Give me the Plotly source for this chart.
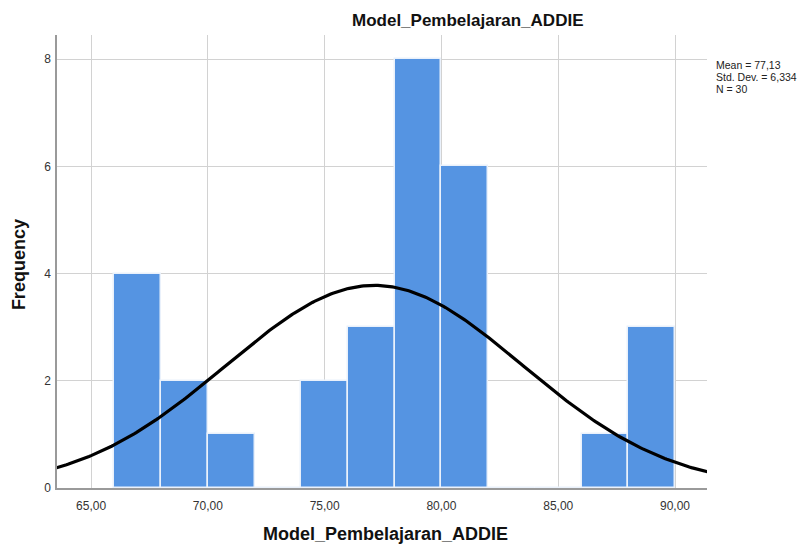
import numpy as np
import plotly.graph_objects as go

# Data
bin_starts = [66, 68, 70, 72, 74, 76, 78, 80, 82, 84, 86, 88]
frequencies = [4, 2, 1, 0, 2, 3, 8, 6, 0, 0, 1, 3]
bin_width = 2
mean_val = 77.13
std_dev = 6.334
n_total = 30
x_tick_vals = [65, 70, 75, 80, 85, 90]
x_tick_text = ["65,00", "70,00", "75,00", "80,00", "85,00", "90,00"]
y_tick_vals = [0, 2, 4, 6, 8]
stats_lines = ["Mean = 77,13", "Std. Dev. = 6,334", "N = 30"]
title_text = "Model_Pembelajaran_ADDIE"

centers = [s + bin_width / 2 for s in bin_starts]

# Normal curve from the stated statistics
xs = np.linspace(60, 95, 400)
ys = n_total * bin_width / (std_dev * np.sqrt(2 * np.pi)) * np.exp(-0.5 * ((xs - mean_val) / std_dev) ** 2)

fig = go.Figure()
fig.add_trace(go.Bar(
    x=centers, y=frequencies, width=[bin_width] * len(centers),
    marker=dict(color="#5594E2", line=dict(color="#EAF1FB", width=1.5)),
    hoverinfo="x+y",
))
fig.add_trace(go.Scatter(
    x=xs, y=ys, mode="lines", line=dict(color="black", width=3.2),
    hoverinfo="skip",
))

annotations = [
    dict(text="<b>" + title_text + "</b>", xref="paper", yref="paper",
         x=0.632, y=1.0, yshift=15, xanchor="center", yanchor="middle",
         showarrow=False, font=dict(size=17, color="#111111")),
    dict(text="<b>" + title_text + "</b>", xref="paper", yref="paper",
         x=0.505, y=0.0, yshift=-46, xanchor="center", yanchor="middle",
         showarrow=False, font=dict(size=18, color="#111111")),
    dict(text="<b>Frequency</b>", xref="paper", yref="paper", textangle=-90,
         x=0.0, xshift=-38, y=0.492, xanchor="center", yanchor="middle",
         showarrow=False, font=dict(size=18, color="#111111")),
]
stat_y = [0.934, 0.907, 0.881]
for txt, yy in zip(stats_lines, stat_y):
    annotations.append(dict(text=txt, xref="paper", yref="paper",
                            x=1.0, xshift=7, y=yy, xanchor="left", yanchor="middle",
                            showarrow=False, font=dict(size=10.5, color="#222222")))

fig.update_layout(
    width=801, height=536,
    margin=dict(l=49, r=102, t=27, b=56),
    paper_bgcolor="white", plot_bgcolor="white",
    showlegend=False,
    bargap=0,
    font=dict(family="Liberation Sans, Arial, sans-serif", color="#222222"),
    xaxis=dict(
        range=[63.54, 91.37],
        tickvals=x_tick_vals, ticktext=x_tick_text,
        tickfont=dict(size=12, color="#333333"),
        showgrid=True, gridcolor="#D2D2D2", gridwidth=1,
        showline=True, linecolor="#9A9A9A", linewidth=1.5,
        zeroline=False, ticks="", automargin=False,
        ticklabelstandoff=6,
    ),
    yaxis=dict(
        range=[0, 8.45],
        tickvals=y_tick_vals,
        tickfont=dict(size=12, color="#333333"),
        showgrid=True, gridcolor="#D2D2D2", gridwidth=1,
        showline=True, linecolor="#9A9A9A", linewidth=1.5,
        zeroline=False, ticks="", automargin=False,
        ticklabelstandoff=2,
    ),
    annotations=annotations,
)

fig.write_html("out.html")
